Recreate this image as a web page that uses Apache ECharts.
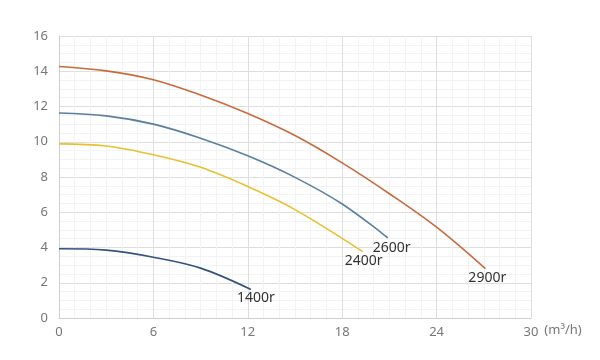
<!DOCTYPE html>
<html><head><meta charset="utf-8">
<script src="https://cdn.jsdelivr.net/npm/echarts@6/dist/echarts.min.js"></script>
<style>html,body{margin:0;padding:0;background:#fff}#c{width:600px;height:360px}</style>
</head><body><div id="c"></div>
<script>
const xTicks = [0, 6, 12, 18, 24, 30];
const yTicks = [0, 2, 4, 6, 8, 10, 12, 14, 16];
const seriesNames = ['2900r', '2600r', '2400r', '1400r'];
const q2900 = [0, 3, 6, 9, 12, 15, 18, 21, 24, 27.1];
const h2900 = [14.27, 14.02, 13.52, 12.65, 11.6, 10.35, 8.8, 7.05, 5.15, 2.8];
const q2600 = [0, 3, 6, 9, 12, 15, 18, 20.9];
const h2600 = [11.63, 11.47, 11.0, 10.2, 9.2, 7.98, 6.47, 4.55];
const q2400 = [0, 3, 6, 9, 12, 15, 19.3];
const h2400 = [9.88, 9.76, 9.26, 8.55, 7.46, 6.15, 3.77];
const q1400 = [0, 3, 6, 9, 12.2];
const h1400 = [3.93, 3.85, 3.45, 2.83, 1.62];
const colors = ['#c96a3c', '#5a7fa0', '#e8c030', '#34527e'];

const pairs = (q, h) => q.map((v, i) => [v, h[i]]);
const allData = [pairs(q2900, h2900), pairs(q2600, h2600), pairs(q2400, h2400), pairs(q1400, h1400)];
const labelOffsets = [[-17, 2], [-15, 3], [-18, 2], [-14, 2]];

const chart = echarts.init(document.getElementById('c'));
chart.setOption({
  animation: false,
  grid: { left: 59, right: 69, top: 36, bottom: 42 },
  xAxis: {
    type: 'value', min: xTicks[0], max: xTicks[xTicks.length - 1], interval: 6,
    name: '(m³/h)', nameLocation: 'end', nameGap: 6,
    nameTextStyle: { color: '#777', fontSize: 13, fontFamily: 'Noto Sans', verticalAlign: 'top', padding: [6, 0, 0, 0] },
    axisLine: { show: true, lineStyle: { color: '#cfcfcf' } },
    axisTick: { show: false },
    axisLabel: { color: '#777', fontSize: 13, fontFamily: 'Noto Sans', margin: 8 },
    splitLine: { show: true, lineStyle: { color: '#dedede' } },
    minorTick: { show: false, splitNumber: 6 },
    minorSplitLine: { show: true, lineStyle: { color: '#f3f3f3' } }
  },
  yAxis: {
    type: 'value', min: yTicks[0], max: yTicks[yTicks.length - 1], interval: 2,
    axisLine: { show: true, lineStyle: { color: '#cfcfcf' } },
    axisTick: { show: false },
    axisLabel: { color: '#777', fontSize: 13, fontFamily: 'Noto Sans', margin: 11 },
    splitLine: { show: true, lineStyle: { color: '#dedede' } },
    minorTick: { show: false, splitNumber: 4 },
    minorSplitLine: { show: true, lineStyle: { color: '#f3f3f3' } }
  },
  series: seriesNames.map((n, i) => ({
    name: n, type: 'line', smooth: 0.35, showSymbol: false,
    data: allData[i],
    lineStyle: { color: colors[i], width: 1.6 },
    endLabel: {
      show: true, formatter: n, color: '#333', fontSize: 14, fontFamily: 'Noto Sans',
      align: 'left', verticalAlign: 'top', offset: labelOffsets[i], distance: 0
    }
  }))
});
</script></body></html>
